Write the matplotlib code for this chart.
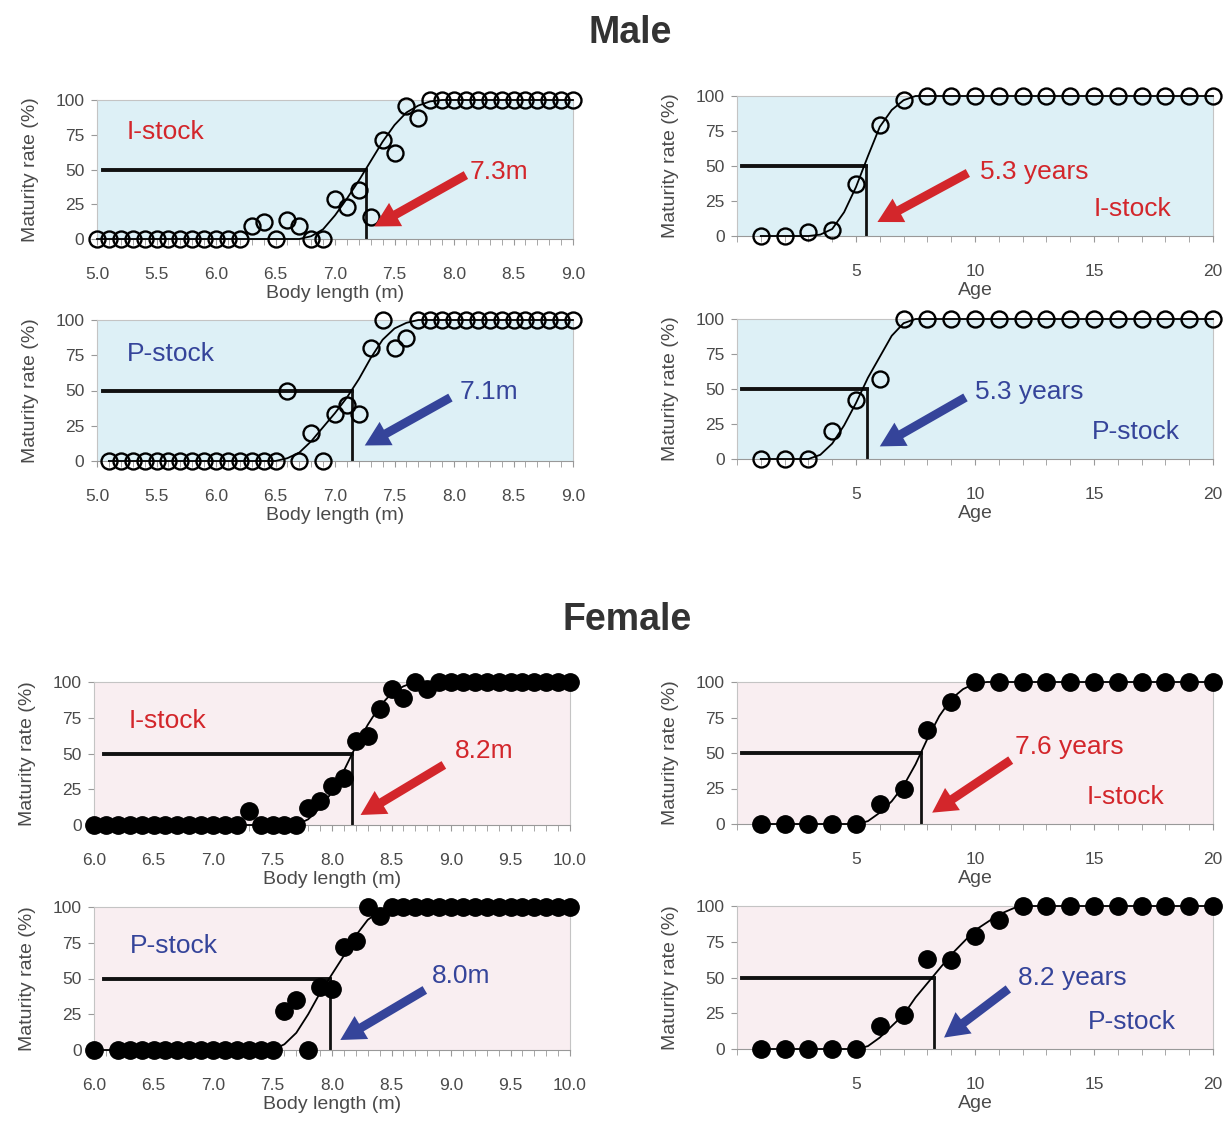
import numpy as np
import matplotlib.pyplot as plt
from matplotlib.patches import FancyArrowPatch

plt.rcParams['font.family'] = ['Liberation Sans', 'DejaVu Sans']

RED = '#d3262b'
BLUE = '#35449a'
MALE_BG = '#ddf0f6'
FEMALE_BG = '#f9eef1'
AXIS_TXT = '#4a4a4a'

# --- length classes (m) ---
male_len_i_x = np.round(np.arange(5.0, 9.05, 0.1), 1)
male_len_i_y = [0] * 13 + [9, 12, 0, 14, 9, 0, 0, 29, 23, 35, 16, 71, 62, 96, 87] + [100] * 13
male_len_p_x = np.round(np.arange(5.1, 9.05, 0.1), 1)
male_len_p_y = [0] * 15 + [50, 0, 20, 0, 33, 40, 33, 80, 100, 80, 87] + [100] * 14
fem_len_i_x = np.round(np.arange(6.0, 10.05, 0.1), 1)
fem_len_i_y = [0] * 13 + [10, 0, 0, 0, 0, 12, 17, 27, 33, 59, 62, 81, 95, 89, 100, 95] + [100] * 12
fem_len_p_x = np.round(np.r_[6.0, np.arange(6.2, 10.05, 0.1)], 1)
fem_len_p_y = [0] * 15 + [27, 35, 0, 44, 43, 72, 76, 100, 94] + [100] * 16

# --- age classes (years) ---
ages = np.arange(1, 21)
male_age_i_y = [0, 0, 3, 4, 37, 79, 97] + [100] * 13
male_age_p_y = [0, 0, 0, 20, 42, 57, 100] + [100] * 13
fem_age_i_y = [0, 0, 0, 0, 0, 14, 25, 66, 86, 100] + [100] * 10
fem_age_p_y = [0, 0, 0, 0, 0, 16, 24, 63, 62, 79, 90, 100] + [100] * 8

# --- fitted maturity curves ---
male_len_i_cx = [5.0, 6.7, 6.8, 6.9, 7.0, 7.1, 7.2, 7.3, 7.4, 7.5, 7.6, 7.7, 7.8, 7.9, 9.0]
male_len_i_cy = [0, 0, 2, 7, 17, 29, 42, 56, 70, 82, 91, 96, 99, 100, 100]
male_len_p_cx = [5.1, 6.5, 6.6, 6.7, 6.8, 6.9, 7.0, 7.1, 7.2, 7.3, 7.4, 7.5, 7.6, 7.7, 9.0]
male_len_p_cy = [0, 0, 2, 6, 14, 24, 34, 45, 58, 73, 86, 94, 98, 100, 100]
fem_len_i_cx = [6.0, 7.7, 7.8, 7.9, 8.0, 8.1, 8.2, 8.3, 8.4, 8.5, 8.6, 8.7, 10.0]
fem_len_i_cy = [0, 0, 4, 12, 23, 38, 55, 70, 83, 92, 97, 100, 100]
fem_len_p_cx = [6.0, 7.5, 7.6, 7.7, 7.8, 7.9, 8.0, 8.1, 8.2, 8.3, 8.4, 8.5, 10.0]
fem_len_p_cy = [0, 0, 4, 12, 25, 40, 53, 66, 80, 91, 97, 100, 100]
male_age_i_cx = [1, 3, 3.5, 4, 4.5, 5, 5.5, 6, 6.5, 7, 7.5, 20]
male_age_i_cy = [0, 0, 1, 5, 17, 35, 57, 78, 90, 97, 100, 100]
male_age_p_cx = [1, 3, 3.5, 4, 4.5, 5, 5.5, 6, 6.5, 7, 7.5, 20]
male_age_p_cy = [0, 0, 3, 11, 24, 40, 58, 73, 88, 97, 100, 100]
fem_age_i_cx = [1, 5, 5.5, 6, 6.5, 7, 7.5, 8, 8.5, 9, 9.5, 10, 10.5, 20]
fem_age_i_cy = [0, 0, 2, 8, 16, 27, 42, 60, 76, 88, 95, 99, 100, 100]
fem_age_p_cx = [1, 5, 5.5, 6, 7, 7.5, 8, 8.5, 9, 10, 11, 11.7, 12, 20]
fem_age_p_cy = [0, 0, 2, 8, 24, 36, 46, 56, 66, 83, 94, 99, 100, 100]

# 50% maturity points (where the guide lines meet the curve)
l50 = {'mli': 7.26, 'mlp': 7.14, 'mai': 5.43, 'map': 5.45,
       'fli': 8.17, 'flp': 7.98, 'fai': 7.72, 'fap': 8.29}
l50_labels = {'mli': '7.3m', 'mlp': '7.1m', 'mai': '5.3 years', 'map': '5.3 years',
              'fli': '8.2m', 'flp': '8.0m', 'fai': '7.6 years', 'fap': '8.2 years'}

W, H = 1228, 1122
fig = plt.figure(figsize=(W / 100, H / 100), dpi=100)
ANNOT_FS = 19


def px_rect(x0, x1, ytop, ybot):
    return [x0 / W, 1 - ybot / H, (x1 - x0) / W, (ybot - ytop) / H]


def make_axes(rect, bg, kind, xlim):
    ax = fig.add_axes(rect)
    ax.set_facecolor(bg)
    ax.set_xlim(*xlim)
    ax.set_ylim(0, 100)
    ax.set_yticks([0, 25, 50, 75, 100])
    if kind == 'length':
        ax.set_xticks(np.arange(xlim[0], xlim[1] + 0.01, 0.5))
        ax.set_xticklabels([f'{v:.1f}' for v in np.arange(xlim[0], xlim[1] + 0.01, 0.5)])
        ax.set_xticks(np.arange(xlim[0], xlim[1] + 0.01, 0.1), minor=True)
        ax.set_xlabel('Body length (m)', fontsize=14, color=AXIS_TXT, labelpad=2)
    else:
        ax.set_xticks([5, 10, 15, 20])
        ax.set_xticks(np.arange(0, 21, 1), minor=True)
        ax.set_xlabel('Age', fontsize=14, color=AXIS_TXT, labelpad=2)
    ax.set_ylabel('Maturity rate (%)', fontsize=14, color=AXIS_TXT, labelpad=12)
    for s in ['top', 'right', 'left']:
        ax.spines[s].set_color('#c4c4c4')
        ax.spines[s].set_linewidth(0.8)
    ax.spines['bottom'].set_color('#999999')
    ax.tick_params(axis='x', which='both', length=4, color='#999999', pad=16,
                   labelsize=12.5, labelcolor=AXIS_TXT)
    ax.tick_params(axis='y', length=4, color='#999999', pad=5,
                   labelsize=12.5, labelcolor=AXIS_TXT)
    return ax


def draw(ax, x, y, cx, cy, key, hstart, filled):
    ax.plot(cx, cy, color='black', lw=1.3, zorder=3, clip_on=False)
    ax.plot([hstart, l50[key]], [50, 50], color='#111111', lw=2.8, zorder=2)
    ax.plot([l50[key], l50[key]], [0, 50], color='#111111', lw=2.0, zorder=2)
    if filled:
        ax.plot(x, y, 'o', ms=12.5, mfc='black', mec='black', zorder=4, clip_on=False)
    else:
        ax.plot(x, y, 'o', ms=11.5, mfc='none', mec='black', mew=1.7, zorder=4, clip_on=False)


def arrow(ax, tail, tip, color):
    ax.add_patch(FancyArrowPatch(tail, tip, color=color, lw=0, zorder=5,
                                 arrowstyle='simple,head_length=1.1,head_width=1.2,tail_width=0.4',
                                 mutation_scale=16, shrinkA=0, shrinkB=0))


# ---------------- Male ----------------
fig.text(0.513, 0.971, 'Male', ha='center', va='center', fontsize=27,
         fontweight='bold', color='#333333')

ax = make_axes(px_rect(97, 573, 100, 239), MALE_BG, 'length', (5.0, 9.0))
draw(ax, male_len_i_x, male_len_i_y, male_len_i_cx, male_len_i_cy, 'mli', 5.05, False)
ax.text(5.25, 77, 'I-stock', color=RED, fontsize=ANNOT_FS, va='center')
ax.text(8.13, 48, l50_labels['mli'], color=RED, fontsize=ANNOT_FS, va='center')
arrow(ax, (8.1, 46), (7.33, 9), RED)

ax = make_axes(px_rect(97, 573, 320, 461), MALE_BG, 'length', (5.0, 9.0))
draw(ax, male_len_p_x, male_len_p_y, male_len_p_cx, male_len_p_cy, 'mlp', 5.05, False)
ax.text(5.25, 76, 'P-stock', color=BLUE, fontsize=ANNOT_FS, va='center')
ax.text(8.05, 49, l50_labels['mlp'], color=BLUE, fontsize=ANNOT_FS, va='center')
arrow(ax, (7.97, 45), (7.25, 11), BLUE)

ax = make_axes(px_rect(737, 1213, 96, 236), MALE_BG, 'age', (0, 20))
draw(ax, ages, male_age_i_y, male_age_i_cx, male_age_i_cy, 'mai', 0.2, False)
ax.text(10.2, 46, l50_labels['mai'], color=RED, fontsize=ANNOT_FS, va='center')
ax.text(15.0, 19, 'I-stock', color=RED, fontsize=ANNOT_FS, va='center')
arrow(ax, (9.7, 45), (5.9, 10), RED)

ax = make_axes(px_rect(737, 1213, 319, 459), MALE_BG, 'age', (0, 20))
draw(ax, ages, male_age_p_y, male_age_p_cx, male_age_p_cy, 'map', 0.2, False)
ax.text(10.0, 48, l50_labels['map'], color=BLUE, fontsize=ANNOT_FS, va='center')
ax.text(14.9, 19, 'P-stock', color=BLUE, fontsize=ANNOT_FS, va='center')
arrow(ax, (9.6, 44), (6.0, 9), BLUE)

# ---------------- Female ----------------
fig.text(0.511, 0.447, 'Female', ha='center', va='center', fontsize=27,
         fontweight='bold', color='#333333')

ax = make_axes(px_rect(94, 570, 682, 825), FEMALE_BG, 'length', (6.0, 10.0))
draw(ax, fem_len_i_x, fem_len_i_y, fem_len_i_cx, fem_len_i_cy, 'fli', 6.08, True)
ax.text(6.29, 73, 'I-stock', color=RED, fontsize=ANNOT_FS, va='center')
ax.text(9.03, 52, l50_labels['fli'], color=RED, fontsize=ANNOT_FS, va='center')
arrow(ax, (8.94, 42), (8.24, 7), RED)

ax = make_axes(px_rect(94, 570, 907, 1050), FEMALE_BG, 'length', (6.0, 10.0))
draw(ax, fem_len_p_x, fem_len_p_y, fem_len_p_cx, fem_len_p_cy, 'flp', 6.08, True)
ax.text(6.3, 73, 'P-stock', color=BLUE, fontsize=ANNOT_FS, va='center')
ax.text(8.84, 52, l50_labels['flp'], color=BLUE, fontsize=ANNOT_FS, va='center')
arrow(ax, (8.78, 42), (8.07, 7), BLUE)

ax = make_axes(px_rect(737, 1213, 682, 824), FEMALE_BG, 'age', (0, 20))
draw(ax, ages, fem_age_i_y, fem_age_i_cx, fem_age_i_cy, 'fai', 0.2, True)
ax.text(11.7, 54, l50_labels['fai'], color=RED, fontsize=ANNOT_FS, va='center')
ax.text(14.7, 19, 'I-stock', color=RED, fontsize=ANNOT_FS, va='center')
arrow(ax, (11.5, 45), (8.2, 8), RED)

ax = make_axes(px_rect(737, 1213, 906, 1049), FEMALE_BG, 'age', (0, 20))
draw(ax, ages, fem_age_p_y, fem_age_p_cx, fem_age_p_cy, 'fap', 0.2, True)
ax.text(11.8, 50, l50_labels['fap'], color=BLUE, fontsize=ANNOT_FS, va='center')
ax.text(14.75, 19, 'P-stock', color=BLUE, fontsize=ANNOT_FS, va='center')
arrow(ax, (11.4, 42), (8.7, 8), BLUE)

fig.savefig('out.png', dpi=100)
